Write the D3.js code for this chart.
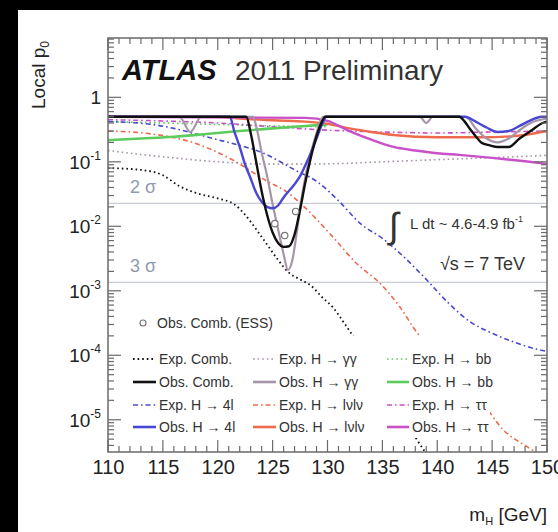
<!DOCTYPE html>
<html><head><meta charset="utf-8">
<script src="https://cdn.jsdelivr.net/npm/d3@7"></script>
<style>body{margin:0;background:#000}svg{display:block}</style>
</head><body>
<svg id="chart" width="558" height="532"></svg>
<script>
// Local p0 versus Higgs mass, per channel and combined (ATLAS 2011)
const massTicks = [110, 115, 120, 125, 130, 135, 140, 145, 150];
const pTicks = [1, 1e-1, 1e-2, 1e-3, 1e-4, 1e-5];
const pTickExp = ["", "-1", "-2", "-3", "-4", "-5"];

// [mH in GeV, local p0]
const expComb = [[110,0.08],[113,0.075],[115,0.062],[116.5,0.042],[118,0.033],[120,0.027],[121.5,0.022],[122.5,0.015],[123.5,0.009],[124.5,0.0052],[125.5,0.003],[126.5,0.0019],[127.5,0.0015],[128.5,0.0012],[129.5,8e-4],[130.5,5.5e-4],[131.5,3.2e-4],[132.5,1.8e-4],[133.5,1e-4],[135,3.5e-5],[137,1e-5],[139,3e-6],[140,1.8e-6]];
const obsComb = [[110,0.5],[122.6,0.5],[123,0.28],[123.5,0.1],[124,0.035],[124.5,0.015],[125,0.008],[125.5,0.0055],[126,0.0048],[126.5,0.0049],[127,0.0075],[127.5,0.018],[128,0.05],[128.5,0.12],[129,0.25],[129.5,0.42],[129.8,0.5],[142,0.5],[142.5,0.42],[143,0.32],[143.5,0.25],[144,0.2],[144.8,0.18],[145.5,0.17],[146.5,0.17],[147.5,0.23],[148.5,0.3],[149.6,0.4],[150,0.42]];
const expGG = [[110,0.15],[113,0.13],[116,0.115],[120,0.1],[125,0.092],[130,0.093],[135,0.1],[140,0.108],[145,0.116],[150,0.126]];
const obsGG = [[110,0.5],[116.5,0.5],[117.5,0.29],[118.5,0.5],[123.2,0.5],[123.6,0.3],[124,0.14],[124.5,0.06],[125,0.022],[125.5,0.009],[126,0.0037],[126.4,0.0021],[126.8,0.003],[127.2,0.008],[127.6,0.025],[128,0.06],[128.5,0.14],[129,0.28],[129.6,0.5],[138.4,0.5],[139,0.4],[139.6,0.5],[142.6,0.5],[143.5,0.33],[144.5,0.23],[145.5,0.2],[146.5,0.23],[147.5,0.31],[148.5,0.4],[150,0.47]];
const exp4l = [[110,0.42],[114,0.38],[116,0.33],[118,0.27],[120,0.22],[122,0.18],[124,0.14],[125.7,0.1],[127,0.075],[129,0.05],[131,0.025],[133,0.011],[135,0.0065],[137,0.0033],[139,0.0015],[141,6.5e-4],[143,3.3e-4],[145,2.2e-4],[147,1.6e-4],[149,1.25e-4],[150,1.15e-4]];
const obs4l = [[110,0.5],[121.1,0.5],[121.5,0.3],[122,0.17],[122.5,0.09],[123,0.055],[123.5,0.033],[124,0.024],[124.5,0.02],[125,0.019],[125.5,0.021],[126,0.028],[127,0.045],[127.5,0.06],[128,0.09],[128.5,0.14],[129,0.23],[129.5,0.38],[129.9,0.5],[142.5,0.5],[143.5,0.42],[144.5,0.34],[145.5,0.29],[146.5,0.3],[147.5,0.36],[148.5,0.44],[149.5,0.5],[150,0.5]];
const expWW = [[110,0.3],[114,0.27],[117.7,0.2],[121.4,0.106],[124.5,0.05],[126.3,0.034],[127.5,0.023],[130.5,0.0068],[132.7,0.0026],[134.8,0.0013],[136.6,5.6e-4],[138.2,2.2e-4],[140,1.1e-4],[142,5e-5],[144,2e-5],[146,7e-6],[148,4e-6],[150,2.5e-6]];
const obsWW = [[110,0.5],[120,0.5],[122,0.47],[125,0.44],[128,0.42],[130,0.39],[132,0.33],[134,0.29],[136,0.26],[140,0.24],[144,0.24],[147,0.25],[150,0.3]];
const expBB = [[110,0.42],[115,0.4],[120,0.38],[125,0.36],[130,0.35]];
const obsBB = [[110,0.216],[113,0.23],[116,0.245],[119,0.27],[122,0.3],[125,0.33],[128,0.36],[130,0.38]];
const expTT = [[110,0.45],[115,0.43],[120,0.4],[125,0.35],[130,0.31],[135,0.29],[140,0.28],[145,0.29],[150,0.3]];
const obsTT = [[110,0.5],[128,0.48],[130,0.43],[132,0.3],[134,0.22],[136,0.17],[138,0.15],[140,0.136],[142,0.128],[145,0.115],[148,0.102],[150,0.093]];
const obsCombESS = [[125.2,0.011],[126.1,0.0072],[127.1,0.017]];

const sigmaLevels = [0.02275, 0.00135];
const sigmaNames = ["2 σ", "3 σ"];

const svg = d3.select("#chart");
const W = 558, H = 532;
const m = {left: 108, right: 11, top: 38, bottom: 80};
const pw = W - m.left - m.right, ph = H - m.top - m.bottom;

svg.append("rect").attr("width", W).attr("height", H).attr("fill", "#000");
svg.append("rect").attr("x", 18).attr("y", 10).attr("width", W - 18).attr("height", H - 10).attr("fill", "#fff");

const x = d3.scaleLinear().domain([110, 150]).range([m.left, m.left + pw]);
const y = d3.scaleLog().domain([Math.pow(10, -5.5), Math.pow(10, 0.92)]).range([m.top + ph, m.top]);

const font = "'Liberation Sans', Arial, Helvetica, sans-serif";

svg.append("clipPath").attr("id", "plotclip").append("rect")
  .attr("x", m.left).attr("y", m.top).attr("width", pw).attr("height", ph);

const plot = svg.append("g").attr("clip-path", "url(#plotclip)");

// significance reference lines
sigmaLevels.forEach(v => {
  plot.append("line").attr("x1", m.left).attr("x2", m.left + pw)
    .attr("y1", y(v)).attr("y2", y(v)).attr("stroke", "#c8ccd4").attr("stroke-width", 1.2);
});

const line = d3.line().x(d => x(d[0])).y(d => y(d[1])).curve(d3.curveMonotoneX);

const DOT = "1.6,3";
const DASHDOT = "5,3,1.6,3";
const col = {comb: "#111", gg: "#a695a8", l4: "#4848d2", ww: "#ee6a4c", bb: "#5ccc5c", tt: "#c850c8"};

const series = [
  {d: expGG, c: col.gg, w: 1.6, dash: DOT},
  {d: expBB, c: col.bb, w: 1.6, dash: DOT},
  {d: expTT, c: col.tt, w: 1.6, dash: DASHDOT},
  {d: expWW, c: col.ww, w: 1.6, dash: DASHDOT},
  {d: exp4l, c: col.l4, w: 1.6, dash: DASHDOT},
  {d: expComb, c: col.comb, w: 1.8, dash: DOT},
  {d: obsBB, c: col.bb, w: 2.6},
  {d: obsWW, c: col.ww, w: 2.4},
  {d: obsTT, c: col.tt, w: 2.4},
  {d: obsGG, c: col.gg, w: 2.2},
  {d: obs4l, c: col.l4, w: 2.4},
  {d: obsComb, c: col.comb, w: 2.4}
];
series.forEach(s => {
  plot.append("path").attr("d", line(s.d)).attr("fill", "none")
    .attr("stroke", s.c).attr("stroke-width", s.w)
    .attr("stroke-dasharray", s.dash || null)
    .attr("stroke-linejoin", "round");
});

plot.selectAll("circle.ess").data(obsCombESS).enter().append("circle")
  .attr("cx", d => x(d[0])).attr("cy", d => y(d[1])).attr("r", 3.2)
  .attr("fill", "#fff").attr("stroke", "#777").attr("stroke-width", 1.2);

// legend panel hides the curves behind it
svg.append("rect").attr("x", 122).attr("y", 336).attr("width", 368).attr("height", 102).attr("fill", "#fff");

// frame and ticks on all four sides
const fg = svg.append("g").attr("stroke", "#6a6a6a").attr("stroke-width", 1.2);
fg.append("rect").attr("x", m.left).attr("y", m.top).attr("width", pw).attr("height", ph).attr("fill", "none").attr("stroke-width", 1.5);
d3.range(110, 151, 1).forEach(v => {
  const L = v % 5 === 0 ? 12 : 6;
  fg.append("line").attr("x1", x(v)).attr("x2", x(v)).attr("y1", m.top + ph).attr("y2", m.top + ph - L);
  fg.append("line").attr("x1", x(v)).attr("x2", x(v)).attr("y1", m.top).attr("y2", m.top + L);
});
const yMinor = [];
for (let e = -6; e <= 0; e++) for (let k = 1; k <= 9; k++) {
  const v = k * Math.pow(10, e);
  if (v >= y.domain()[0] && v <= y.domain()[1]) yMinor.push({v, major: k === 1});
}
yMinor.forEach(t => {
  const L = t.major ? 13 : 6;
  fg.append("line").attr("x1", m.left).attr("x2", m.left + L).attr("y1", y(t.v)).attr("y2", y(t.v));
  fg.append("line").attr("x1", m.left + pw).attr("x2", m.left + pw - L).attr("y1", y(t.v)).attr("y2", y(t.v));
});

// axis labels
const xa = d3.axisBottom(x).tickValues(massTicks).tickSize(0).tickPadding(8).tickFormat(d3.format("d"));
const gx = svg.append("g").attr("transform", `translate(0,${m.top + ph})`).call(xa);
gx.select(".domain").remove();
gx.selectAll("text").attr("font-family", font).attr("font-size", 20).attr("fill", "#222").attr("dy", "0.71em");

const gy = svg.append("g");
pTicks.forEach((v, i) => {
  const t = gy.append("text").attr("x", 101).attr("y", y(v) + 7).attr("text-anchor", "end")
    .attr("font-family", font).attr("font-size", 19).attr("fill", "#222");
  if (i === 0) { t.text("1"); return; }
  t.append("tspan").text("10");
  t.append("tspan").attr("font-size", 12).attr("dy", -9).text(pTickExp[i]);
});

const yl = svg.append("text").attr("transform", "translate(45,41) rotate(-90)")
  .attr("text-anchor", "end").attr("font-family", font).attr("font-size", 19).attr("fill", "#222");
yl.append("tspan").text("Local p");
yl.append("tspan").attr("font-size", 12).attr("dy", 4).text("0");

const xl = svg.append("text").attr("x", 547).attr("y", 521).attr("text-anchor", "end")
  .attr("font-family", font).attr("font-size", 19).attr("fill", "#222");
xl.append("tspan").text("m");
xl.append("tspan").attr("font-size", 11).attr("dy", 4).text("H");
xl.append("tspan").attr("dy", -4).text(" [GeV]");

// header
svg.append("text").attr("x", 122).attr("y", 80).attr("font-family", font).attr("font-size", 29)
  .attr("font-weight", "bold").attr("font-style", "italic").attr("fill", "#111").text("ATLAS");
svg.append("text").attr("x", 235).attr("y", 80).attr("font-family", font).attr("font-size", 28)
  .attr("fill", "#333").text("2011 Preliminary");

// sigma labels
sigmaNames.forEach((s, i) => {
  svg.append("text").attr("x", 130).attr("y", y(sigmaLevels[i]) - 10).attr("font-family", font)
    .attr("font-size", 18).attr("fill", "#8f9bb0").text(s);
});

// luminosity and energy
svg.append("text").attr("x", 389).attr("y", 238).attr("font-family", font).attr("font-size", 36)
  .attr("fill", "#333").text("∫");
const lum = svg.append("text").attr("x", 410).attr("y", 229).attr("font-family", font).attr("font-size", 15).attr("fill", "#333");
lum.append("tspan").text("L dt ~ 4.6-4.9 fb");
lum.append("tspan").attr("font-size", 9).attr("dy", -7).text("-1");
svg.append("text").attr("x", 525).attr("y", 270).attr("text-anchor", "end").attr("font-family", font)
  .attr("font-size", 18).attr("fill", "#333").text("√s = 7 TeV");

// legend
const lg = svg.append("g").attr("font-family", font).attr("font-size", 14).attr("fill", "#333");
lg.append("circle").attr("cx", 143).attr("cy", 323).attr("r", 3).attr("fill", "#fff").attr("stroke", "#777").attr("stroke-width", 1.2);
lg.append("text").attr("x", 157).attr("y", 328).text("Obs. Comb. (ESS)");

const legendCols = [
  {x1: 133, x2: 156, tx: 159, items: [
    {t: "Exp. Comb.", c: col.comb, dash: DOT, w: 1.8},
    {t: "Obs. Comb.", c: col.comb, w: 2.6},
    {t: "Exp. H → 4l", c: col.l4, dash: DASHDOT, w: 1.6},
    {t: "Obs. H → 4l", c: col.l4, w: 2.6}]},
  {x1: 253, x2: 276, tx: 279, items: [
    {t: "Exp. H → γγ", c: col.gg, dash: DOT, w: 1.6},
    {t: "Obs. H → γγ", c: col.gg, w: 2.6},
    {t: "Exp. H → lνlν", c: col.ww, dash: DASHDOT, w: 1.6},
    {t: "Obs. H → lνlν", c: col.ww, w: 2.6}]},
  {x1: 387, x2: 409, tx: 412, items: [
    {t: "Exp. H → bb", c: col.bb, dash: DOT, w: 1.6},
    {t: "Obs. H → bb", c: col.bb, w: 2.6},
    {t: "Exp. H → ττ", c: col.tt, dash: DASHDOT, w: 1.6},
    {t: "Obs. H → ττ", c: col.tt, w: 2.6}]}
];
const rowY = [359, 382, 405, 427];
legendCols.forEach(cl => {
  cl.items.forEach((it, r) => {
    lg.append("line").attr("x1", cl.x1).attr("x2", cl.x2).attr("y1", rowY[r]).attr("y2", rowY[r])
      .attr("stroke", it.c).attr("stroke-width", it.w).attr("stroke-dasharray", it.dash || null);
    lg.append("text").attr("x", cl.tx).attr("y", rowY[r] + 5).text(it.t);
  });
});
</script>
</body></html>
